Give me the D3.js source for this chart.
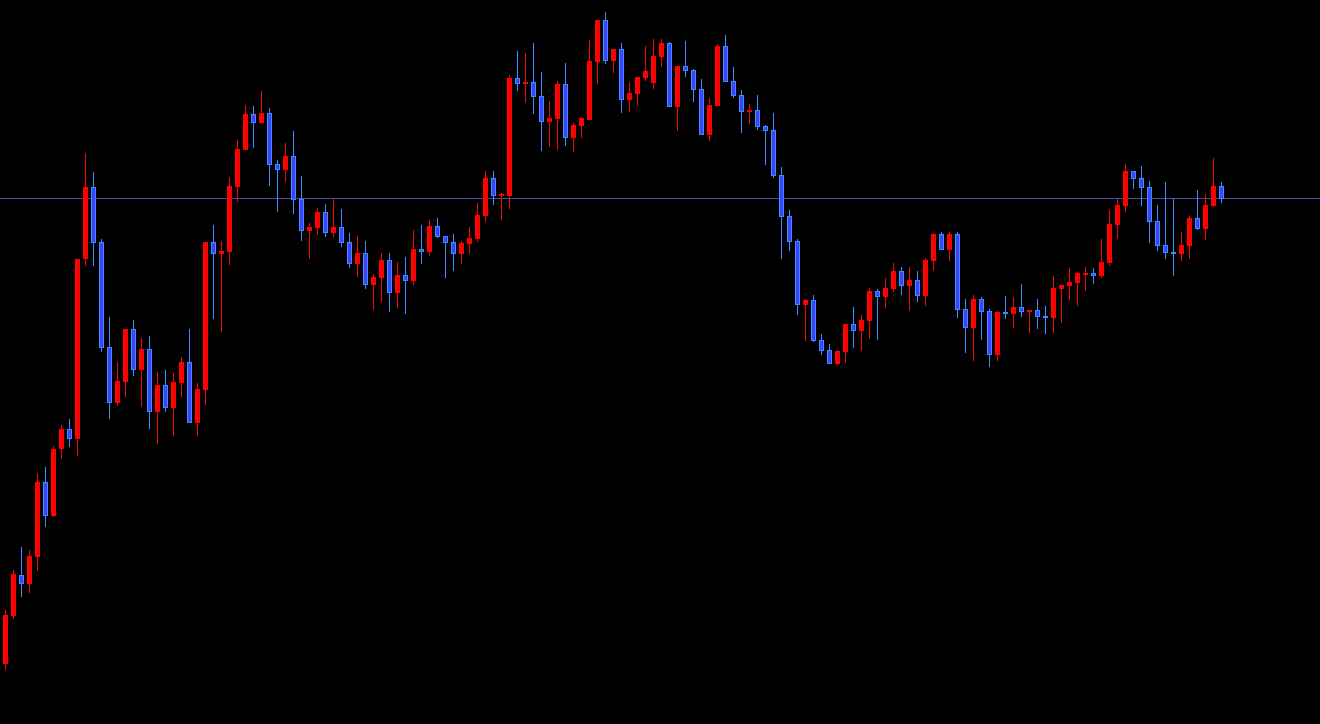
<!DOCTYPE html>
<html>
<head>
<meta charset="utf-8">
<script src="https://cdn.jsdelivr.net/npm/d3@7"></script>
<style>
  html, body { margin: 0; padding: 0; background: #000; overflow: hidden; }
  svg { display: block; }
</style>
</head>
<body>
<svg id="chart" width="1320" height="724"></svg>
<script>
const opens = [
143.36,143.84,144.25,144.165,144.43,145.18,144.84,145.51,145.71,145.614,
147.405,148.13,147.577,146.53,145.97,146.18,146.71,146.30,146.51,145.88,
146.15,145.92,146.17,146.38,145.77,146.10,147.58,147.46,147.48,148.13,
148.50,148.86,148.77,148.87,148.36,148.30,148.44,148.01,147.69,147.72,
147.88,147.67,147.73,147.58,147.36,147.47,147.15,147.22,147.40,147.07,
147.25,147.19,147.51,147.48,147.74,147.64,147.58,147.46,147.56,147.61,
147.84,148.22,148.04,148.04,149.22,149.16,149.18,149.04,148.78,148.81,
149.16,148.62,148.74,148.80,149.38,149.80,149.39,149.51,149.00,149.06,
149.22,149.17,149.43,149.57,148.93,149.34,149.30,149.11,148.65,148.94,
149.54,149.19,149.05,148.88,148.90,148.74,148.70,148.25,147.84,147.59,
146.95,147.00,146.60,146.50,146.36,146.48,146.76,146.69,146.79,147.09,
147.03,147.11,147.29,147.14,147.20,147.04,147.39,147.66,147.50,147.66,
146.91,146.72,147.01,146.89,146.45,146.88,146.86,146.93,146.88,146.90,
146.84,146.82,147.11,147.14,147.17,147.26,147.27,147.24,147.37,147.75,
147.94,148.29,148.22,148.13,147.79,147.55,147.48,147.46,147.54,147.82,
147.71,147.94,148.14];

const highs = [
143.90,144.30,144.53,144.495,145.27,145.33,145.535,145.75,145.81,147.41,
148.47,148.28,147.61,146.83,146.38,146.71,146.80,146.62,146.64,146.28,
146.30,146.27,146.43,146.71,146.17,147.58,147.75,147.59,148.23,148.60,
148.95,148.94,149.09,148.92,148.40,148.57,148.69,148.24,147.77,147.92,
147.96,148.02,147.91,147.67,147.64,147.59,147.26,147.47,147.47,147.38,
147.43,147.70,147.75,147.80,147.82,147.64,147.66,147.59,147.73,147.97,
148.29,148.29,148.07,149.25,149.49,149.47,149.57,149.28,148.99,149.19,
149.37,148.77,148.83,149.60,149.80,149.88,149.51,149.57,149.18,149.23,
149.54,149.61,149.61,149.58,149.34,149.59,149.31,149.21,149.02,149.56,
149.65,149.33,149.10,148.96,149.05,148.75,148.87,148.33,147.90,147.61,
147.01,147.05,146.66,146.56,146.50,146.76,146.93,146.85,147.12,147.11,
147.22,147.37,147.33,147.33,147.29,147.42,147.67,147.68,147.68,147.68,
147.01,147.05,147.03,146.91,146.89,147.04,147.03,147.16,146.90,147.01,
146.94,147.24,147.16,147.32,147.28,147.33,147.32,147.61,147.90,148.01,
148.36,148.29,148.34,148.19,147.95,148.18,148.01,147.68,147.84,148.10,
148.06,148.42,148.18];

const lows = [
143.30,143.81,144.03,144.07,144.285,144.73,144.83,145.415,145.525,145.44,
147.34,147.34,146.48,145.81,145.94,146.03,146.24,145.93,145.71,145.56,
145.88,145.64,146.03,145.77,145.64,145.95,146.81,146.68,147.35,147.98,
148.50,148.52,148.76,148.14,147.88,148.18,147.86,147.59,147.41,147.65,
147.63,147.63,147.53,147.32,147.23,147.11,146.90,146.98,146.88,146.92,
146.86,147.15,147.36,147.44,147.62,147.22,147.29,147.36,147.46,147.58,
147.78,147.95,147.80,147.91,149.09,148.97,148.86,148.49,148.53,148.50,
148.54,148.48,148.62,148.80,149.16,149.36,149.27,148.87,148.88,148.94,
149.19,149.11,149.33,148.93,148.69,149.23,148.98,148.65,148.59,148.94,
149.18,149.02,148.67,148.76,148.70,148.35,148.22,147.41,147.49,146.85,
146.59,146.58,146.45,146.36,146.35,146.37,146.52,146.49,146.61,146.60,
146.92,147.08,147.05,146.89,146.98,146.94,147.29,147.50,147.39,146.82,
146.47,146.39,146.60,146.33,146.39,146.81,146.72,146.83,146.67,146.71,
146.66,146.67,146.77,147.00,146.94,147.09,147.16,147.22,147.34,147.61,
147.88,148.11,147.94,147.57,147.49,147.41,147.24,147.39,147.41,147.70,
147.60,147.93,147.97];

const closes = [
143.85,144.26,144.165,144.44,145.18,144.84,145.51,145.71,145.614,147.41,
148.13,147.574,146.524,145.97,146.19,146.71,146.30,146.51,145.88,146.15,
145.92,146.18,146.38,145.77,146.11,147.58,147.46,147.49,148.14,148.51,
148.86,148.77,148.87,148.35,148.30,148.44,148.00,147.69,147.73,147.88,
147.67,147.73,147.57,147.36,147.47,147.15,147.23,147.40,147.07,147.25,
147.19,147.51,147.48,147.74,147.63,147.57,147.46,147.57,147.62,147.85,
148.22,148.04,148.055,149.22,149.16,149.18,149.03,148.78,148.82,149.16,
148.62,148.75,148.82,149.39,149.80,149.39,149.51,149.00,149.07,149.23,
149.29,149.44,149.57,148.93,149.34,149.29,149.10,148.65,148.95,149.54,
149.18,149.04,148.88,148.90,148.73,148.69,148.24,147.83,147.58,146.95,
147.00,146.59,146.49,146.36,146.49,146.76,146.69,146.80,147.09,147.03,
147.12,147.29,147.14,147.20,147.04,147.40,147.66,147.50,147.66,146.90,
146.72,147.01,146.88,146.45,146.88,146.86,146.93,146.88,146.90,146.83,
146.82,147.12,147.15,147.18,147.27,147.27,147.24,147.38,147.76,147.95,
148.29,148.21,148.12,147.78,147.54,147.47,147.46,147.55,147.82,147.71,
147.95,148.14,148.015];

const priceDomain = [142.76, 150.0];

const width = 1320, height = 724;
const svg = d3.select("#chart");
svg.append("rect").attr("width", width).attr("height", height).attr("fill", "#000");

const n = closes.length;
const x = d3.scaleLinear().domain([0, n - 1]).range([5.5, 5.5 + 8 * (n - 1)]);
const y = d3.scaleLinear().domain(priceDomain).range([height, 0]);

const data = d3.range(n).map(i => ({
  i, o: opens[i], h: highs[i], l: lows[i], c: closes[i],
  up: closes[i] >= opens[i]
}));

const upColor = "#ff0000";
const downFill = "#4040ff";
const downStroke = "#3a8cff";

// current price line (last close)
const lastClose = closes[n - 1];
const lineY = Math.floor(y(lastClose)) + 0.5;
svg.append("line")
  .attr("x1", 0).attr("x2", width)
  .attr("y1", lineY).attr("y2", lineY)
  .attr("stroke", "#4a4aa8").attr("stroke-width", 1)
  .attr("shape-rendering", "crispEdges");

const g = svg.append("g");

// wicks
g.selectAll("line.wick").data(data).join("line")
  .attr("class", "wick")
  .attr("x1", d => x(d.i)).attr("x2", d => x(d.i))
  .attr("y1", d => Math.round(y(d.h)))
  .attr("y2", d => Math.round(y(d.l)))
  .attr("stroke", d => d.up ? upColor : downStroke)
  .attr("stroke-width", 1)
  .attr("shape-rendering", "crispEdges");

// bodies
g.selectAll("rect.body").data(data).join("rect")
  .attr("class", "body")
  .attr("x", d => d.up ? x(d.i) - 2.5 : x(d.i) - 2)
  .attr("width", d => d.up ? 5 : 4)
  .attr("y", d => {
    const t = Math.round(y(Math.max(d.o, d.c)));
    return d.up ? t : t + 0.5;
  })
  .attr("height", d => {
    const t = Math.round(y(Math.max(d.o, d.c)));
    const b = Math.round(y(Math.min(d.o, d.c)));
    const hgt = Math.max(b - t, 2);
    return d.up ? hgt : Math.max(hgt - 1, 1);
  })
  .attr("fill", d => d.up ? upColor : downFill)
  .attr("stroke", d => d.up ? "none" : downStroke)
  .attr("stroke-width", 1)
  .attr("shape-rendering", "crispEdges");
</script>
</body>
</html>
